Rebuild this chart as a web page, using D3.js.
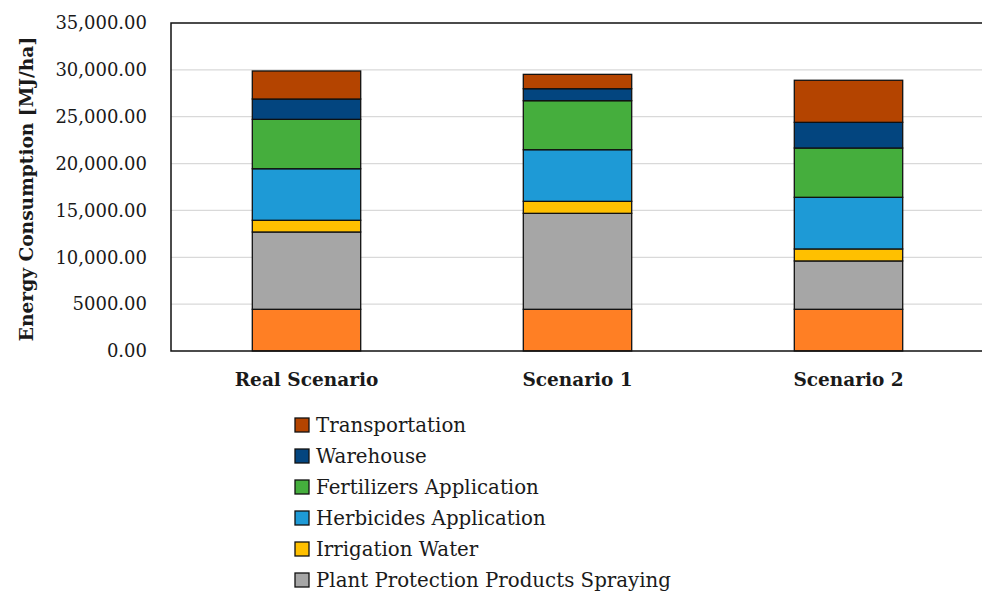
<!DOCTYPE html>
<html>
<head>
<meta charset="utf-8">
<script src="https://cdn.jsdelivr.net/npm/d3@7"></script>
<style>
  html, body { margin: 0; padding: 0; background: #fff; }
  svg { display: block; }
  text { font-family: "DejaVu Serif", "Liberation Serif", serif; fill: #1a1a1a; }
</style>
</head>
<body>
<svg id="chart" width="982" height="594"></svg>
<script>
const categories = ["Real Scenario", "Scenario 1", "Scenario 2"];
const seriesNames = ["Base Operations", "Plant Protection Products Spraying", "Irrigation Water",
  "Herbicides Application", "Fertilizers Application", "Warehouse", "Transportation"];
const seriesColors = ["#FF7F24", "#A6A6A6", "#FFC000", "#1E9AD6", "#45AE3D", "#03457F", "#B44400"];
const baseOperations = [4450, 4450, 4450];
const plantProtection = [8250, 10240, 5160];
const irrigationWater = [1250, 1280, 1280];
const herbicides = [5500, 5510, 5510];
const fertilizers = [5270, 5230, 5260];
const warehouse = [2170, 1280, 2740];
const transportation = [2990, 1530, 4490];
const legendNames = ["Transportation", "Warehouse", "Fertilizers Application",
  "Herbicides Application", "Irrigation Water", "Plant Protection Products Spraying"];
const yTickValues = [0, 5000, 10000, 15000, 20000, 25000, 30000, 35000];
const yTickLabels = ["0.00", "5000.00", "10,000.00", "15,000.00", "20,000.00", "25,000.00", "30,000.00", "35,000.00"];
const yTitle = "Energy Consumption [MJ/ha]";

const seriesValues = [baseOperations, plantProtection, irrigationWater, herbicides, fertilizers, warehouse, transportation];
const table = categories.map((c, i) => {
  const row = { category: c };
  seriesNames.forEach((s, j) => row[s] = seriesValues[j][i]);
  return row;
});

const svg = d3.select("#chart");
const m = { left: 171, right: 984, top: 23, bottom: 351 };

const x = d3.scaleBand().domain(categories).range([m.left, m.right]).paddingInner(0.6).paddingOuter(0.3);
const y = d3.scaleLinear().domain([0, 35000]).range([m.bottom, m.top]);

// gridlines
svg.append("g").selectAll("line").data(yTickValues.filter(v => v > 0 && v < 35000)).join("line")
  .attr("x1", m.left).attr("x2", m.right)
  .attr("y1", d => y(d)).attr("y2", d => y(d))
  .attr("stroke", "#d9d9d9").attr("stroke-width", 1.3);

// y axis labels
const yAxis = d3.axisLeft(y).tickValues(yTickValues)
  .tickFormat((d, i) => yTickLabels[i]).tickSize(0).tickPadding(24);
const gy = svg.append("g").attr("transform", `translate(${m.left},0)`).call(yAxis);
gy.select(".domain").remove();
gy.selectAll("text").attr("font-family", "DejaVu Serif").attr("font-size", 18).attr("fill", "#1a1a1a");

// bars
const stack = d3.stack().keys(seriesNames);
const layers = stack(table);
svg.append("g").selectAll("g").data(layers).join("g")
  .attr("fill", (d, i) => seriesColors[i])
  .selectAll("rect").data(d => d).join("rect")
  .attr("x", d => x(d.data.category))
  .attr("width", x.bandwidth())
  .attr("y", d => y(d[1]))
  .attr("height", d => y(d[0]) - y(d[1]))
  .attr("stroke", "#111").attr("stroke-width", 1.3);

// plot frame (right side falls outside the canvas)
svg.append("path")
  .attr("d", `M${m.right + 2},${m.top}H${m.left}V${m.bottom}H${m.right + 2}`)
  .attr("fill", "none").attr("stroke", "#111").attr("stroke-width", 1.5);

// x axis labels
const xAxis = d3.axisBottom(x).tickSize(0).tickPadding(22);
const gx = svg.append("g").attr("transform", `translate(0,${m.bottom})`).call(xAxis);
gx.select(".domain").remove();
gx.selectAll("text").attr("font-family", "DejaVu Serif").attr("font-size", 18.5)
  .attr("font-weight", "bold").attr("fill", "#1a1a1a");

// y title
svg.append("text")
  .attr("transform", `translate(33,${(m.top + m.bottom) / 2 + 2}) rotate(-90)`)
  .attr("text-anchor", "middle")
  .attr("font-size", 18.6).attr("font-weight", "bold")
  .text(yTitle);

// legend
const legend = svg.append("g");
const legendItems = legend.selectAll("g").data(legendNames).join("g")
  .attr("transform", (d, i) => `translate(295,${418 + i * 31})`);
legendItems.append("rect")
  .attr("width", 14).attr("height", 14)
  .attr("fill", d => seriesColors[seriesNames.indexOf(d)])
  .attr("stroke", "#111").attr("stroke-width", 1.3);
legendItems.append("text")
  .attr("x", 21).attr("y", 7).attr("dy", "0.35em")
  .attr("font-size", 19.8)
  .text(d => d);
</script>
</body>
</html>
